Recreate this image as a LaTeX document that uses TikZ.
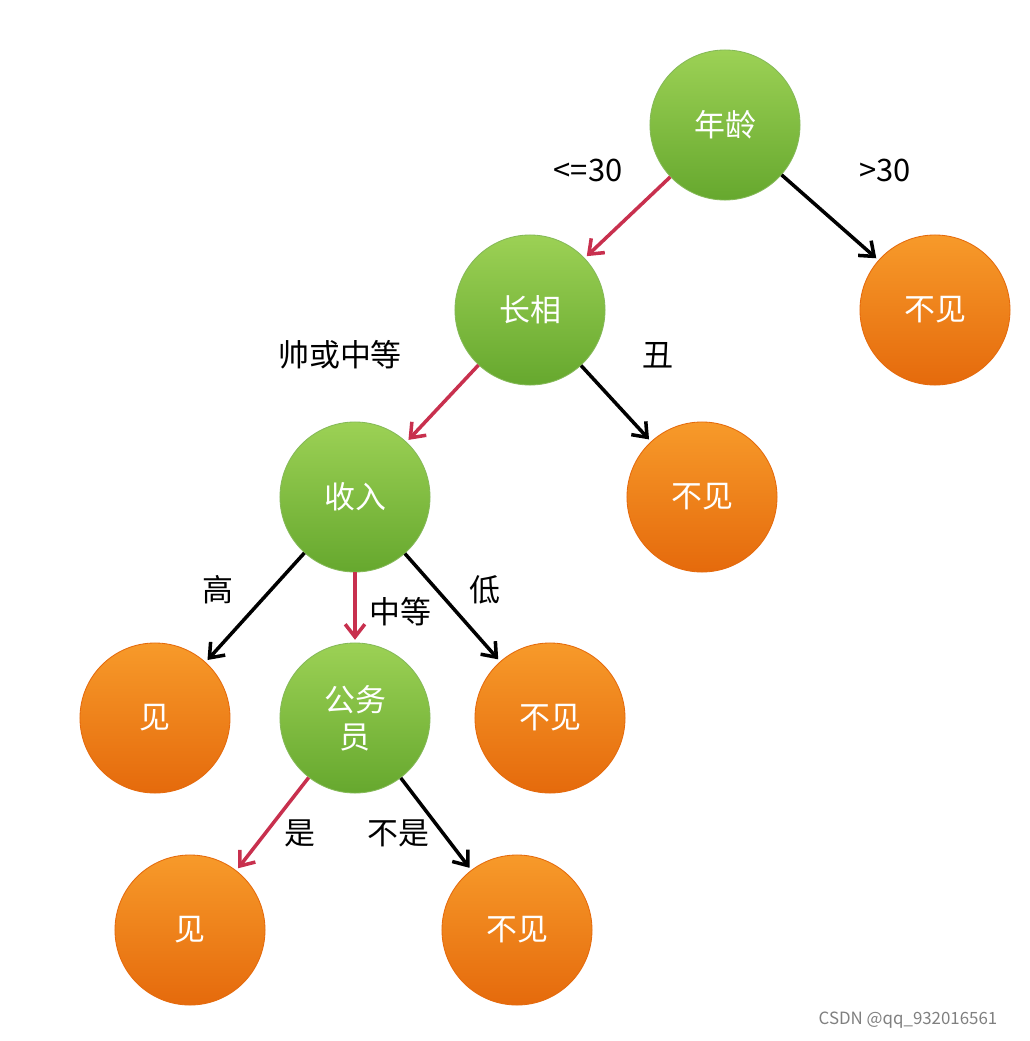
\documentclass[tikz,border=0pt]{standalone}
\usepackage{fontspec}
\setmainfont{Noto Sans CJK SC}
\usetikzlibrary{arrows.meta}
\definecolor{gtop}{HTML}{9CD155}
\definecolor{gbot}{HTML}{66A82E}
\definecolor{otop}{HTML}{F79A2A}
\definecolor{obot}{HTML}{E56A0C}
\definecolor{redar}{HTML}{C8304E}
\tikzset{
 x=0.025cm,y=-0.025cm,
 gnode/.style={circle,minimum size=3.75cm,inner sep=0pt,top color=gtop,bottom color=gbot,draw=gbot!80!white,line width=0.6pt,text=white,font=\fontsize{22}{26}\selectfont,align=center},
 onode/.style={gnode,top color=otop,bottom color=obot,draw=obot},
 conn/.style={-{Straight Barb[length=9pt,width=14pt,line width=2.5pt]},line width=2.5pt,black},
 rconn/.style={conn,redar},
 lbl/.style={font=\fontsize{22}{26}\selectfont,text=black}
}
\begin{document}
\begin{tikzpicture}
\useasboundingbox (0,0) rectangle (1030,1041);
\fill[white] (0,0) rectangle (1030,1041);
\node[gnode] (age) at (725,125) {年龄};
\node[gnode] (look) at (530,310) {长相};
\node[onode] (n1) at (935,310) {不见};
\node[gnode] (inc) at (355,497) {收入};
\node[onode] (n2) at (702,497) {不见};
\node[onode] (y1) at (155,718) {见};
\node[gnode] (gov) at (355,718) {公务\\员};
\node[onode] (n3) at (550,718) {不见};
\node[onode] (y2) at (190,930) {见};
\node[onode] (n4) at (517,930) {不见};
\draw[rconn,shorten >=2pt] (age) -- (look);
\draw[conn,shorten >=2pt] (age) -- (n1);
\draw[rconn,shorten >=2pt] (look) -- (inc);
\draw[conn,shorten >=2pt] (look) -- (n2);
\draw[conn,shorten >=2pt] (inc) -- (y1);
\draw[rconn,shorten >=2pt] (inc) -- (gov);
\draw[conn,shorten >=2pt] (inc) -- (n3);
\draw[rconn,shorten >=2pt] (gov) -- (y2);
\draw[conn,shorten >=2pt] (gov) -- (n4);
\node[lbl] (l1) at (588,170) {<=30};
\node[lbl] (l2) at (885,170) {>30};
\node[lbl] (l3) at (340,355) {帅或中等};
\node[lbl] (l4) at (658,355) {丑};
\node[lbl] (l5) at (218,590) {高};
\node[lbl] (l6) at (400,612) {中等};
\node[lbl] (l7) at (485,590) {低};
\node[lbl] (l8) at (300,833) {是};
\node[lbl] (l9) at (398,833) {不是};
\node[font=\fontsize{12}{14}\selectfont,text=gray] (wm) at (908,1020) {CSDN @qq\_932016561};
\end{tikzpicture}
\end{document}
